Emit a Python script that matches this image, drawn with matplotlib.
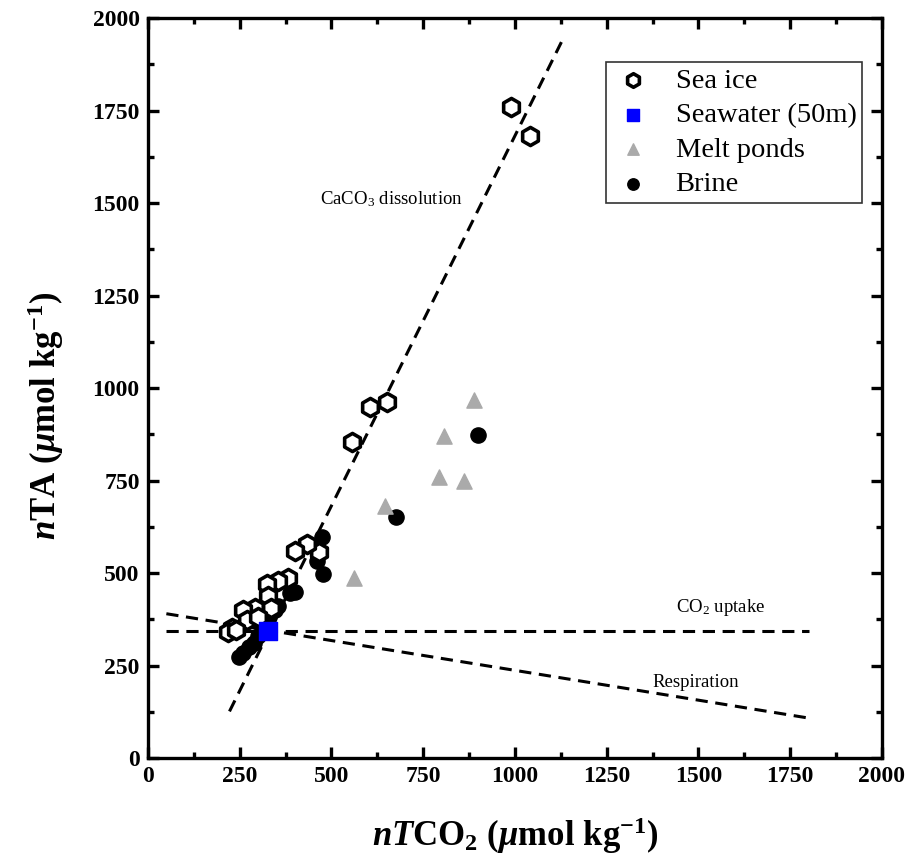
import matplotlib
matplotlib.use("Agg")
import matplotlib.pyplot as plt
import numpy as np
from matplotlib.ticker import MultipleLocator

plt.rcParams['font.family'] = ['Liberation Serif', 'DejaVu Serif']
plt.rcParams['mathtext.fontset'] = 'custom'
plt.rcParams['mathtext.rm'] = 'Liberation Serif'
plt.rcParams['mathtext.it'] = 'Liberation Serif:italic:bold'
plt.rcParams['mathtext.bf'] = 'Liberation Serif:bold'

# Data (nTCO2, nTA) in umol/kg
seaice_x = [1040, 990, 650, 605, 556, 466, 433, 400, 382, 355, 325, 327, 292, 259, 270, 229, 218, 240, 335, 300]
seaice_y = [1680, 1760, 962, 949, 855, 557, 578, 560, 486, 478, 470, 438, 405, 400, 372, 352, 340, 345, 405, 380]

seawater_x = [327]
seawater_y = [343]

melt_x = [888, 807, 793, 861, 646, 561]
melt_y = [968, 870, 759, 749, 681, 486]

brine_x = [899, 676, 474, 460, 478, 400, 387, 354, 345, 330, 300, 290, 275, 260, 248, 310, 320]
brine_y = [873, 651, 597, 532, 497, 449, 446, 410, 400, 380, 330, 310, 300, 285, 272, 340, 355]

# Reference lines (start/end points)
caco3_x = [222, 1135]
caco3_y = [126, 1952]
uptake_x = [50, 1800]
uptake_y = [343, 343]
resp_x = [50, 1800]
resp_y = [390, 108]

fig = plt.figure(figsize=(9.17, 8.67), dpi=100)
ax = fig.add_axes([0.1614, 0.1257, 0.8004, 0.8535])

dash = (0, (4, 2.5))
ax.plot(caco3_x, caco3_y, color='black', lw=2.2, linestyle=dash, zorder=1)
ax.plot(uptake_x, uptake_y, color='black', lw=2.2, linestyle=dash, zorder=1)
ax.plot(resp_x, resp_y, color='black', lw=2.2, linestyle=dash, zorder=1)

ax.scatter(brine_x, brine_y, marker='o', s=120, color='black', zorder=3, label='Brine')
ax.scatter(seaice_x, seaice_y, marker='h', s=170, facecolor='white', edgecolor='black',
           linewidths=2.6, zorder=4, label='Sea ice')
ax.scatter(melt_x, melt_y, marker='^', s=120, color='#aaaaaa', zorder=3, label='Melt ponds')
ax.scatter(seawater_x, seawater_y, marker='s', s=150, color='#0000ff', zorder=5, label='Seawater (50m)')

ax.text(662, 1510, r'CaCO$_3$ dissolution', fontsize=13.5, ha='center', va='center')
ax.text(1561, 408, r'CO$_2$ uptake', fontsize=13.5, ha='center', va='center')
ax.text(1493, 205, 'Respiration', fontsize=13.5, ha='center', va='center')

ax.set_xlim(0, 2000)
ax.set_ylim(0, 2000)
ax.xaxis.set_major_locator(MultipleLocator(250))
ax.yaxis.set_major_locator(MultipleLocator(250))
ax.xaxis.set_minor_locator(MultipleLocator(125))
ax.yaxis.set_minor_locator(MultipleLocator(125))
ax.tick_params(which='both', direction='in', top=True, right=True, width=2.4)
ax.tick_params(which='major', length=8, pad=6)
ax.tick_params(which='minor', length=4)
for s in ax.spines.values():
    s.set_linewidth(2.4)
for lab in ax.get_xticklabels() + ax.get_yticklabels():
    lab.set_fontweight('bold')
    lab.set_fontsize(17)

ax.set_xlabel(r'$\mathit{nT}\mathbf{CO_2\ (}\mathit{\mu}\mathbf{mol\ kg^{-1})}$', fontsize=25, labelpad=20)
ax.set_ylabel(r'$\mathit{n}\mathbf{TA\ (}\mathit{\mu}\mathbf{mol\ kg^{-1})}$', fontsize=25)
ax.yaxis.set_label_coords(-0.112, 0.462)

h, l = ax.get_legend_handles_labels()
order = [1, 3, 2, 0]
leg = ax.legend([h[i] for i in order], [l[i] for i in order], loc='upper right',
                bbox_to_anchor=(0.973, 0.9405), fontsize=20.5, frameon=True, fancybox=False,
                edgecolor='black', handletextpad=0.75, handlelength=1.5, borderpad=0.2,
                labelspacing=0.3, markerscale=0.75, borderaxespad=0)
leg.get_frame().set_linewidth(1.2)

fig.savefig('out.png', dpi=100)
